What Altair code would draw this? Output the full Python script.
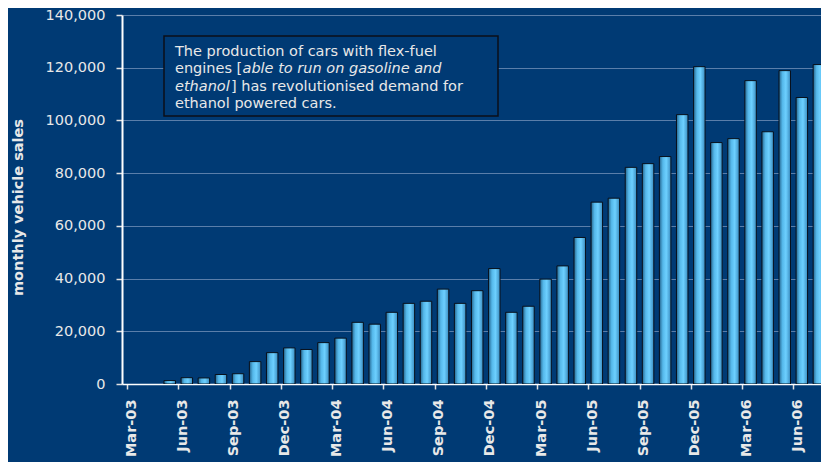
import altair as alt
import pandas as pd

months = ["Mar-03", "Apr-03", "May-03", "Jun-03", "Jul-03", "Aug-03", "Sep-03", "Oct-03", "Nov-03", "Dec-03",
          "Jan-04", "Feb-04", "Mar-04", "Apr-04", "May-04", "Jun-04", "Jul-04", "Aug-04", "Sep-04", "Oct-04", "Nov-04", "Dec-04",
          "Jan-05", "Feb-05", "Mar-05", "Apr-05", "May-05", "Jun-05", "Jul-05", "Aug-05", "Sep-05", "Oct-05", "Nov-05", "Dec-05",
          "Jan-06", "Feb-06", "Mar-06", "Apr-06", "May-06", "Jun-06", "Jul-06"]
sales = [None, None, 1300, 2400, 2300, 3600, 3900, 8500, 11900, 13700,
         13100, 15700, 17400, 23400, 22700, 27200, 30600, 31400, 36000, 30600, 35400, 43800,
         27200, 29500, 39800, 44800, 55600, 69000, 70500, 82200, 83600, 86300, 102200, 120400,
         91600, 93100, 115100, 95700, 118900, 108700, 121200]
tick_labels = months[::3]
y_ticks = [0, 20000, 40000, 60000, 80000, 100000, 120000, 140000]

BG = "#003A74"
TXT = "#e8e8e8"
FONT = "DejaVu Sans"

df = pd.DataFrame({"month": months, "idx": list(range(len(months))), "sales": sales})

label_expr = "[" + ",".join("'%s'" % m for m in tick_labels) + "][round(datum.value / 3)]"

grad = alt.Gradient(
    gradient="linear", x1=0, x2=1, y1=0, y2=0,
    stops=[alt.GradientStop(color="#25668f", offset=0),
           alt.GradientStop(color="#55b8ea", offset=0.3),
           alt.GradientStop(color="#6dd0ff", offset=0.6),
           alt.GradientStop(color="#3a8cc0", offset=1)],
)

bars = alt.Chart(df).transform_filter(
    "isValid(datum.sales) && datum.sales > 0"
).transform_calculate(
    pos="datum.idx + 0.5"
).mark_bar(width=11.5, clip=True, fill=grad, stroke="#08101c", strokeWidth=1).encode(
    x=alt.X("pos:Q", scale=alt.Scale(domain=[0, 40.33], nice=False, zero=False),
            axis=alt.Axis(values=list(range(0, 40, 3)), labelExpr=label_expr, title=None,
                          labelAngle=-90, labelAlign="right", labelBaseline="middle",
                          labelOffset=4, labelPadding=10, labelFlush=False, labelOverlap=False,
                          labelFont=FONT, labelFontSize=14.5, labelFontWeight="bold", labelColor=TXT,
                          tickSize=5, tickColor="#e0e0e0", tickWidth=1.5,
                          domainColor="#ffffff", domainWidth=1.5, grid=False)),
    y=alt.Y("sales:Q", scale=alt.Scale(domain=[0, 140000], nice=False),
            axis=alt.Axis(values=y_ticks, format=",d", title="monthly vehicle sales",
                          titleFont=FONT, titleFontSize=14.5, titleFontWeight="bold", titleColor=TXT,
                          titleAngle=-90, titleX=-104, titleY=192, titleAlign="center", titleBaseline="middle",
                          labelFont=FONT, labelFontSize=14.5, labelColor=TXT, labelPadding=11,
                          tickSize=6, tickColor="#e0e0e0", tickWidth=1.5,
                          domainColor="#ffffff", domainWidth=2,
                          grid=True, gridColor="#7090b8", gridWidth=1.2, gridOpacity=0.8)),
)

one = pd.DataFrame({"a": [0]})
box = alt.Chart(one).mark_rect(fill=BG, stroke="#0b0f18", strokeWidth=1.5).encode(
    x=alt.value(42), x2=alt.value(376), y=alt.value(21), y2=alt.value(101)
)


def txt(s, x, y, italic=False):
    return alt.Chart(one).mark_text(
        text=s, align="left", baseline="alphabetic", font=FONT, fontSize=14.5,
        fontStyle="italic" if italic else "normal", color=TXT
    ).encode(x=alt.value(x), y=alt.value(y))


texts = [
    txt("The production of cars with flex-fuel", 53, 41),
    txt("engines [", 53, 58.3),
    txt("able to run on gasoline and", 120.5, 58.3, italic=True),
    txt("ethanol", 53, 75.5, italic=True),
    txt("] has revolutionised demand for", 109, 75.5),
    txt("ethanol powered cars.", 53, 92.7),
]

chart = alt.layer(bars, box, *texts).properties(
    width=699, height=369,
    autosize=alt.AutoSizeParams(type="none"),
    padding={"left": 114, "top": 7, "right": 0, "bottom": 80},
    background=BG,
).configure_view(stroke=None)

chart.save("out.html", embed_options={"renderer": "svg", "actions": False})
